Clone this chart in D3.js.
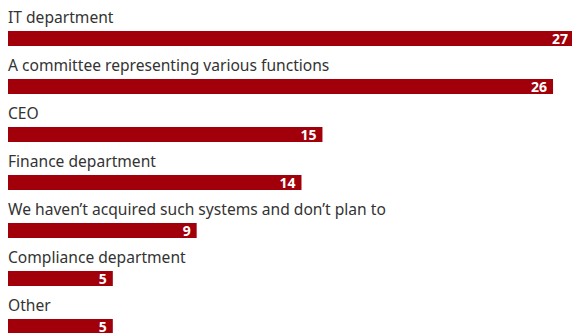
<!DOCTYPE html>
<html>
<head>
<meta charset="utf-8">
<script src="https://cdn.jsdelivr.net/npm/d3@7"></script>
<style>
  body { margin: 0; background: #fff; }
  text { font-family: "Noto Sans", sans-serif; }
</style>
</head>
<body>
<div id="chart"></div>
<script>
// answers and their share (%)
var categories = [
  "IT department",
  "A committee representing various functions",
  "CEO",
  "Finance department",
  "We haven\u2019t acquired such systems and don\u2019t plan to",
  "Compliance department",
  "Other"
];
var values = [27, 26, 15, 14, 9, 5, 5];

var width = 572, height = 333;

var svg = d3.select("#chart")
  .append("svg")
  .attr("width", width)
  .attr("height", height);

var x = d3.scaleLinear().domain([0, 27]).range([8, 574]);
var y = d3.scaleBand().domain(categories).range([0, 336]).paddingInner(0);

var barH = 15;

var row = svg.selectAll("g.row")
  .data(categories)
  .enter().append("g")
  .attr("class", "row")
  .attr("transform", function(d) { return "translate(0," + y(d) + ")"; });

// category label above each bar
row.append("text")
  .attr("x", 8)
  .attr("y", 23)
  .attr("fill", "#333")
  .style("font-size", "15.6px")
  .text(function(d) { return d; });

row.append("rect")
  .attr("x", x(0))
  .attr("y", 31)
  .attr("height", barH)
  .attr("width", function(d, i) { return x(values[i]) - x(0); })
  .attr("fill", "#a1000a");

row.append("text")
  .attr("x", function(d, i) { return x(values[i]) - 6; })
  .attr("y", 44)
  .attr("text-anchor", "end")
  .attr("fill", "#fff")
  .style("font-size", "14px")
  .style("font-weight", "bold")
  .text(function(d, i) { return values[i]; });
</script>
</body>
</html>
